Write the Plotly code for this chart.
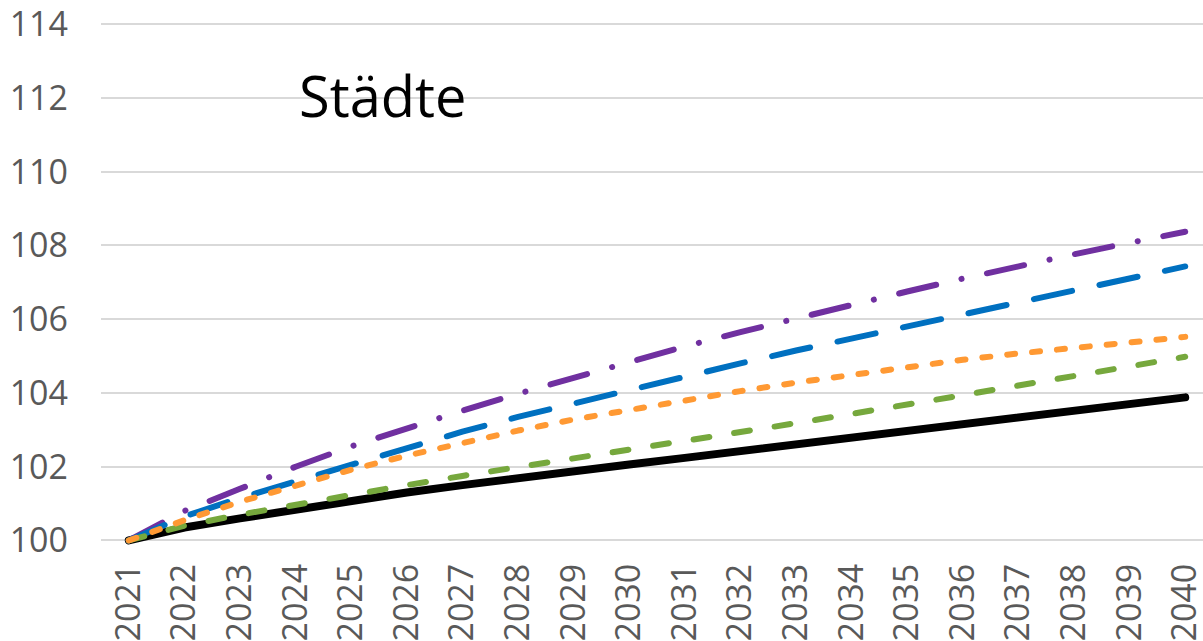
import plotly.graph_objects as go

years = list(range(2021, 2041))
tick_labels = [str(y) for y in years]

series_black = [100.0, 100.35, 100.6, 100.85, 101.08, 101.3, 101.5, 101.7, 101.88, 102.06,
                102.24, 102.42, 102.6, 102.78, 102.96, 103.14, 103.32, 103.5, 103.7, 103.88]
series_purple = [100.0, 100.8, 101.4, 102.0, 102.55, 103.05, 103.52, 103.98, 104.42, 104.85,
                 105.26, 105.65, 106.03, 106.4, 106.75, 107.1, 107.44, 107.76, 108.07, 108.37]
series_blue = [100.0, 100.65, 101.15, 101.6, 102.05, 102.5, 102.95, 103.35, 103.72, 104.1,
               104.45, 104.8, 105.15, 105.48, 105.8, 106.12, 106.45, 106.8, 107.12, 107.43]
series_green = [100.0, 100.4, 100.7, 100.98, 101.25, 101.5, 101.75, 101.98, 102.22, 102.46,
                102.7, 102.94, 103.18, 103.42, 103.68, 103.94, 104.2, 104.46, 104.72, 104.98]
series_orange = [100.0, 100.55, 101.05, 101.5, 101.92, 102.3, 102.65, 102.98, 103.28, 103.55,
                 103.8, 104.05, 104.28, 104.5, 104.7, 104.9, 105.07, 105.23, 105.38, 105.52]

y_ticks = [100, 102, 104, 106, 108, 110, 112, 114]
title_text = "Städte"

fig = go.Figure()
fig.add_trace(go.Scatter(x=years, y=series_black, mode="lines",
                         line=dict(color="#000000", width=8)))
fig.add_trace(go.Scatter(x=years, y=series_purple, mode="lines",
                         line=dict(color="#7030A0", width=6, dash="38px,26px,0.1px,26px")))
fig.add_trace(go.Scatter(x=years, y=series_blue, mode="lines",
                         line=dict(color="#0070C0", width=6, dash="39px,28px")))
fig.add_trace(go.Scatter(x=years, y=series_green, mode="lines",
                         line=dict(color="#76A83D", width=6, dash="16px,25px")))
fig.add_trace(go.Scatter(x=years, y=series_orange, mode="lines",
                         line=dict(color="#FF9933", width=6, dash="8px,17px")))

fig.add_annotation(text=title_text, xref="paper", yref="paper",
                   x=0.178, y=0.863, xanchor="left", yanchor="middle",
                   showarrow=False, font=dict(family="Open Sans", size=56, color="#000000"))

fig.update_layout(
    width=1203, height=641,
    margin=dict(l=101, r=0, t=23, b=95, autoexpand=False),
    paper_bgcolor="white", plot_bgcolor="white",
    showlegend=False,
    font=dict(family="Open Sans", size=34, color="#595959"),
)
fig.update_xaxes(range=[2020.5, 2040.32], tickvals=years, ticktext=tick_labels,
                 tickangle=-90, showgrid=False, zeroline=False, showline=False,
                 ticks="", automargin=False, ticklabelstandoff=10,
                 ticklabeloverflow="allow",
                 tickfont=dict(family="Open Sans", size=34, color="#595959"))
fig.update_yaxes(range=[99.85, 114.03], tickvals=y_ticks,
                 showgrid=True, gridcolor="#D9D9D9", gridwidth=2, zeroline=False,
                 showline=False, ticks="", automargin=False, ticklabelstandoff=32,
                 ticklabeloverflow="allow",
                 tickfont=dict(family="Open Sans", size=34, color="#595959"))

post = """
document.body.style.margin='0';
document.body.style.overflow='hidden';
function _rc(){document.querySelectorAll('path.js-line').forEach(function(p){p.style.strokeLinecap='round';p.style.strokeLinejoin='round';});}
_rc();
var gd=document.getElementsByClassName('plotly-graph-div')[0];
if(gd && gd.on){gd.on('plotly_afterplot', _rc);}
"""
fig.write_html("out.html", post_script=post, config={"displayModeBar": False})
